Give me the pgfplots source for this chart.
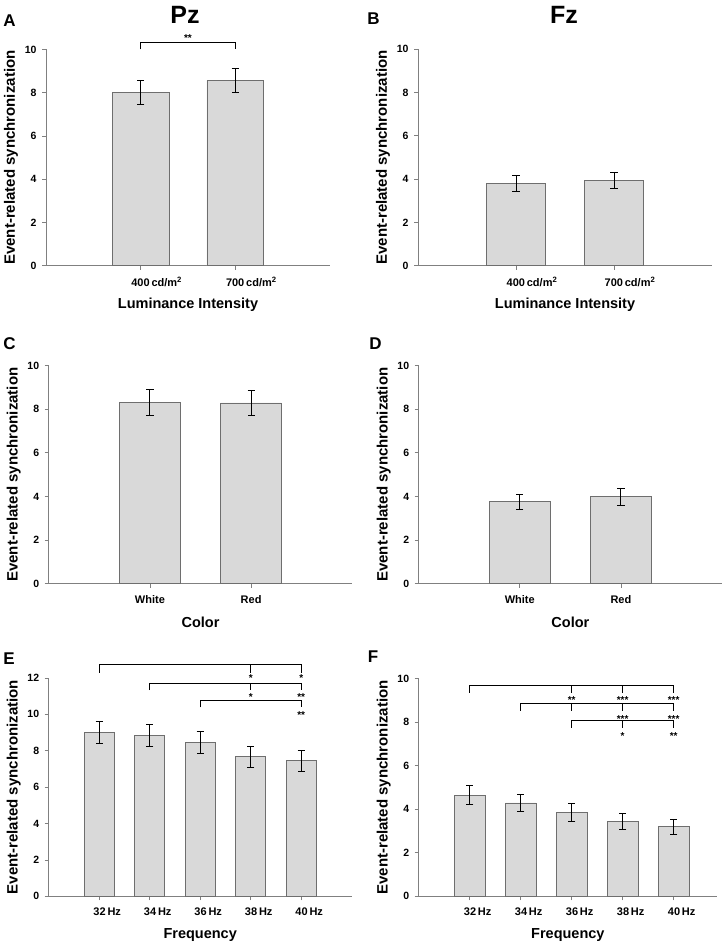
\documentclass[border=0pt]{standalone}
\usepackage{fontspec}
\setmainfont{Liberation Sans}
\usepackage{pgfplots}
\pgfplotsset{compat=1.18}

\definecolor{barfill}{RGB}{217,217,217}
\definecolor{bardraw}{RGB}{110,110,110}
\definecolor{axisgray}{RGB}{128,128,128}

\pgfplotsset{
  erspanel/.style={
    scale only axis,
    ybar, bar width=0.6,
    axis x line=bottom, axis y line=left,
    axis line style={-, draw=axisgray, line width=0.8pt},
    tick style={draw=axisgray, line width=0.8pt},
    major tick length=4pt, tick align=outside,
    ymin=0, xmin=0,
    clip=false,
    yticklabel style={xshift=-2pt, font=\bfseries\fontsize{10.5}{12}\selectfont},
    xticklabel style={yshift=-4pt, font=\bfseries\fontsize{11}{13}\selectfont},
    /pgf/number format/assume math mode=true,
    ylabel={Event-related synchronization},
    every axis y label/.style={at={(axis description cs:0,0.5)}, xshift=-35pt,
      rotate=90, anchor=center, font=\bfseries\fontsize{15}{18}\selectfont},
    every axis x label/.style={at={(axis description cs:0.5,0)}, yshift=-39pt,
      anchor=center, font=\bfseries\fontsize{14.5}{17}\selectfont},
  },
  ersbars/.style={fill=barfill, draw=bardraw, line width=0.8pt,
    error bars/.cd, y dir=both, y explicit,
    error bar style={black, line width=0.9pt},
    error mark options={rotate=90, black, line width=0.9pt, mark size=3.6pt}},
}
\tikzset{
  brk/.style={black, line width=1pt},
  star/.style={font=\bfseries\fontsize{10}{11}\selectfont, inner sep=0pt,
    anchor=center, yshift=-2pt},
}
\newcommand{\lum}[1]{#1\,cd/m\textsuperscript{2}}

\begin{document}
\begin{tikzpicture}
\useasboundingbox (0pt,0pt) rectangle (724pt,948pt);

% panel letters and titles
\node[font=\bfseries\fontsize{17}{20}\selectfont] at (9.5pt,927.5pt) {A};
\node[font=\bfseries\fontsize{17}{20}\selectfont] at (373.5pt,929pt) {B};
\node[font=\bfseries\fontsize{17}{20}\selectfont] at (9.5pt,604.3pt) {C};
\node[font=\bfseries\fontsize{17}{20}\selectfont] at (375.5pt,604pt) {D};
\node[font=\bfseries\fontsize{17}{20}\selectfont] at (9pt,289pt) {E};
\node[font=\bfseries\fontsize{17}{20}\selectfont] at (373pt,291pt) {F};
\node[font=\bfseries\fontsize{25}{28}\selectfont] at (185pt,933pt) {Pz};
\node[font=\bfseries\fontsize{25}{28}\selectfont] at (564pt,933pt) {Fz};

% A: Pz, luminance
\begin{axis}[erspanel, at={(46pt,682.3pt)}, anchor=south west,
  width=284pt, height=216.2pt, xmax=3, ymax=10, ytick={0,2,...,10},
  xtick={1,2}, xticklabels={\lum{400},\lum{700}},
  xticklabel style={xshift=16pt},
  xlabel={Luminance Intensity}]
\addplot[ersbars] coordinates {(1,8.03) +- (0,0.55) (2,8.57) +- (0,0.57)};
\draw[brk] (axis cs:1,10.0) |- (axis cs:2,10.33) -- (axis cs:2,10.0);
\node[star] at (axis cs:1.5,10.6) {**};
\end{axis}

% B: Fz, luminance
\begin{axis}[erspanel, at={(418pt,682.3pt)}, anchor=south west,
  width=294pt, height=216.4pt, xmax=3, ymax=10, ytick={0,2,...,10},
  xtick={1,2}, xticklabels={\lum{400},\lum{700}},
  xticklabel style={xshift=16pt},
  xlabel={Luminance Intensity}]
\addplot[ersbars] coordinates {(1,3.82) +- (0,0.37) (2,3.93) +- (0,0.36)};
\end{axis}

% C: Pz, color
\begin{axis}[erspanel, at={(48.7pt,364.3pt)}, anchor=south west,
  width=303.6pt, height=218pt, xmax=3, ymax=10, ytick={0,2,...,10},
  xtick={1,2}, xticklabels={White,Red},
  xlabel={Color}]
\addplot[ersbars] coordinates {(1,8.32) +- (0,0.61) (2,8.29) +- (0,0.58)};
\end{axis}

% D: Fz, color
\begin{axis}[erspanel, at={(418.7pt,364.3pt)}, anchor=south west,
  width=303.3pt, height=218pt, xmax=3, ymax=10, ytick={0,2,...,10},
  xtick={1,2}, xticklabels={White,Red},
  xlabel={Color}]
\addplot[ersbars] coordinates {(1,3.76) +- (0,0.35) (2,4.00) +- (0,0.39)};
\end{axis}

% E: Pz, frequency
\begin{axis}[erspanel, at={(48.7pt,51.7pt)}, anchor=south west,
  width=303pt, height=218.3pt, xmax=6, ymax=12, ytick={0,2,...,12},
  xtick={1,2,3,4,5}, xticklabels={32\,Hz,34\,Hz,36\,Hz,38\,Hz,40\,Hz},
  xticklabel style={xshift=8pt},
  xlabel={Frequency}]
\addplot[ersbars] coordinates {(1,9.00) +- (0,0.60) (2,8.84) +- (0,0.60)
  (3,8.47) +- (0,0.60) (4,7.68) +- (0,0.58) (5,7.45) +- (0,0.58)};
\draw[brk] (axis cs:1,12.3) |- (axis cs:5,12.72) -- (axis cs:5,12.3);
\draw[brk] (axis cs:4,12.72) -- (axis cs:4,12.3);
\node[star] at (axis cs:4,12.1) {*};
\node[star] at (axis cs:5,12.1) {*};
\draw[brk] (axis cs:2,11.33) |- (axis cs:5,11.71) -- (axis cs:5,11.33);
\draw[brk] (axis cs:4,11.71) -- (axis cs:4,11.33);
\node[star] at (axis cs:4,11.07) {*};
\node[star] at (axis cs:5,11.07) {**};
\draw[brk] (axis cs:3,10.39) |- (axis cs:5,10.75) -- (axis cs:5,10.39);
\node[star] at (axis cs:5,10.06) {**};
\end{axis}

% F: Fz, frequency
\begin{axis}[erspanel, at={(418.7pt,51.7pt)}, anchor=south west,
  width=298.3pt, height=217.6pt, xmax=5.85, ymax=10, ytick={0,2,...,10},
  xtick={1,2,3,4,5}, xticklabels={32\,Hz,34\,Hz,36\,Hz,38\,Hz,40\,Hz},
  xticklabel style={xshift=8pt},
  xlabel={Frequency}]
\addplot[ersbars] coordinates {(1,4.64) +- (0,0.44) (2,4.29) +- (0,0.40)
  (3,3.86) +- (0,0.40) (4,3.43) +- (0,0.36) (5,3.20) +- (0,0.34)};
\draw[brk] (axis cs:1,9.36) |- (axis cs:5,9.71) -- (axis cs:5,9.36);
\draw[brk] (axis cs:3,9.71) -- (axis cs:3,9.36);
\draw[brk] (axis cs:4,9.71) -- (axis cs:4,9.36);
\node[star] at (axis cs:3,9.13) {**};
\node[star] at (axis cs:4,9.13) {***};
\node[star] at (axis cs:5,9.13) {***};
\draw[brk] (axis cs:2,8.53) |- (axis cs:5,8.87) -- (axis cs:5,8.53);
\draw[brk] (axis cs:3,8.87) -- (axis cs:3,8.53);
\draw[brk] (axis cs:4,8.87) -- (axis cs:4,8.53);
\node[star] at (axis cs:4,8.25) {***};
\node[star] at (axis cs:5,8.25) {***};
\draw[brk] (axis cs:3,7.75) |- (axis cs:5,8.07) -- (axis cs:5,7.75);
\draw[brk] (axis cs:4,8.07) -- (axis cs:4,7.75);
\node[star] at (axis cs:4,7.46) {*};
\node[star] at (axis cs:5,7.46) {**};
\end{axis}
\end{tikzpicture}
\end{document}
